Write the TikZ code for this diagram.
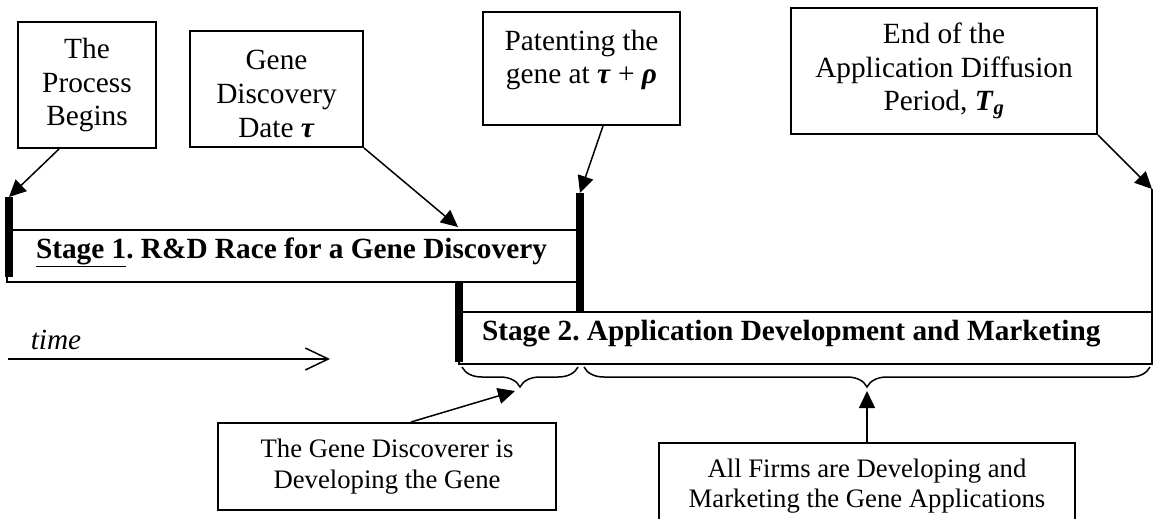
\documentclass[tikz,border=0pt]{standalone}
\usepackage{fontspec}
\setmainfont{Liberation Serif}
\usetikzlibrary{arrows.meta, positioning, decorations.pathreplacing}
\frenchspacing

\newcommand{\bigtext}{\fontsize{29.3pt}{33.7pt}\selectfont}
\newcommand{\smalltext}{\fontsize{26.7pt}{30.7pt}\selectfont}

\begin{document}
\begin{tikzpicture}[x=1pt, y=-1pt,
    callout/.style={draw, line width=2pt, align=center, font=\bigtext, inner sep=0pt},
    note/.style={draw, line width=2pt, align=center, font=\smalltext, inner sep=0pt},
    stagebox/.style={draw, line width=1.3pt, font=\bigtext\bfseries, inner ysep=0pt, text height=0.7em, text depth=0.25em},
    marker/.style={line width=8pt},
    pointer/.style={-{Triangle[length=17pt, width=16pt]}, line width=1.5pt},
    curly/.style={decorate, decoration={brace, mirror, amplitude=20pt}, line width=1.5pt}]
  \useasboundingbox (0,0) rectangle (1154,519);

  % Callout boxes along the top
  \node[callout, minimum width=138pt, minimum height=126pt] (begin) at (87,85) {The\\Process\\Begins};
  \node[callout, minimum width=173pt, minimum height=116pt] (discovery) at (276.5,89) {};
  \node[font=\bigtext, align=center] (discoverytext) at ([yshift=-5pt]discovery.center) {Gene\\Discovery\\Date \textbf{\textit{τ}}};
  \node[callout, minimum width=197pt, minimum height=113pt] (patent) at (581.5,68.5) {};
  \node[font=\bigtext, align=center] (patenttext) at ([yshift=8.5pt]patent.center) {Patenting the\\gene at \textbf{\textit{τ}} + \textbf{\textit{ρ}}};
  \node[callout, minimum width=306pt, minimum height=126pt] (end) at (944,71) {End of the\\Application Diffusion\\Period, \textbf{\textit{T}\textsubscript{\textit{g}}}};

  % The two stages
  \node[stagebox, minimum width=570pt, minimum height=52pt, inner xsep=29pt] (stageone) at (292,256) {\makebox[512pt][l]{\underline{Stage 1}. R\&D Race for a Gene Discovery}};
  \node[stagebox, minimum width=693pt, minimum height=52pt, inner xsep=23pt] (stagetwo) at (805.5,338) {\makebox[647pt][l]{Stage 2. Application Development and Marketing}};

  % Thick markers on the time line
  \coordinate (mark0) at (9,197);
  \coordinate (mark1) at (459,282);
  \coordinate (mark2) at (580,193);
  \coordinate (mark3) at (1152,189);
  \draw[marker] (mark0) -- ++(0,80);
  \draw[marker] (mark1) -- ++(0,80);
  \draw[marker] (mark2) -- (stagetwo.north -| mark2);
  \draw[line width=1.5pt] (mark3) -- (stagetwo.north -| mark3);

  % Time arrow
  \coordinate (tstart) at (8,359);
  \coordinate (tend) at (330,359);
  \draw[line width=1.5pt, -{Straight Barb[length=23pt, width=22pt]}] (tstart) -- (tend);
  \node[font=\bigtext\itshape] (timelabel) at (56,340) {time};

  % Braces under stage two
  \draw[curly] (462,367) -- (578,367);
  \draw[curly] (584,367) -- (1150,367);
  \coordinate (bracea) at (515,391);
  \coordinate (braceb) at (867,391);

  % Notes at the bottom
  \node[note, minimum width=338pt, minimum height=87pt] (discoverer) at (387,466.5) {The Gene Discoverer is\\Developing the Gene};
  \node[note, minimum width=416pt, minimum height=86pt, anchor=north] (firms) at (867,442) {All Firms are Developing and\\Marketing the Gene Applications};

  % Pointers
  \coordinate (disctip) at (458,227);
  \draw[pointer] ([xshift=-28pt]begin.south) -- (mark0);
  \draw[pointer] (discovery.south east) -- (disctip);
  \draw[pointer] ([xshift=21.5pt]patent.south) -- (mark2);
  \draw[pointer] (end.south east) -- (mark3);
  \draw[pointer] ([xshift=24pt]discoverer.north) -- (bracea);
  \draw[pointer] (firms.north) -- (braceb);
\end{tikzpicture}
\end{document}
